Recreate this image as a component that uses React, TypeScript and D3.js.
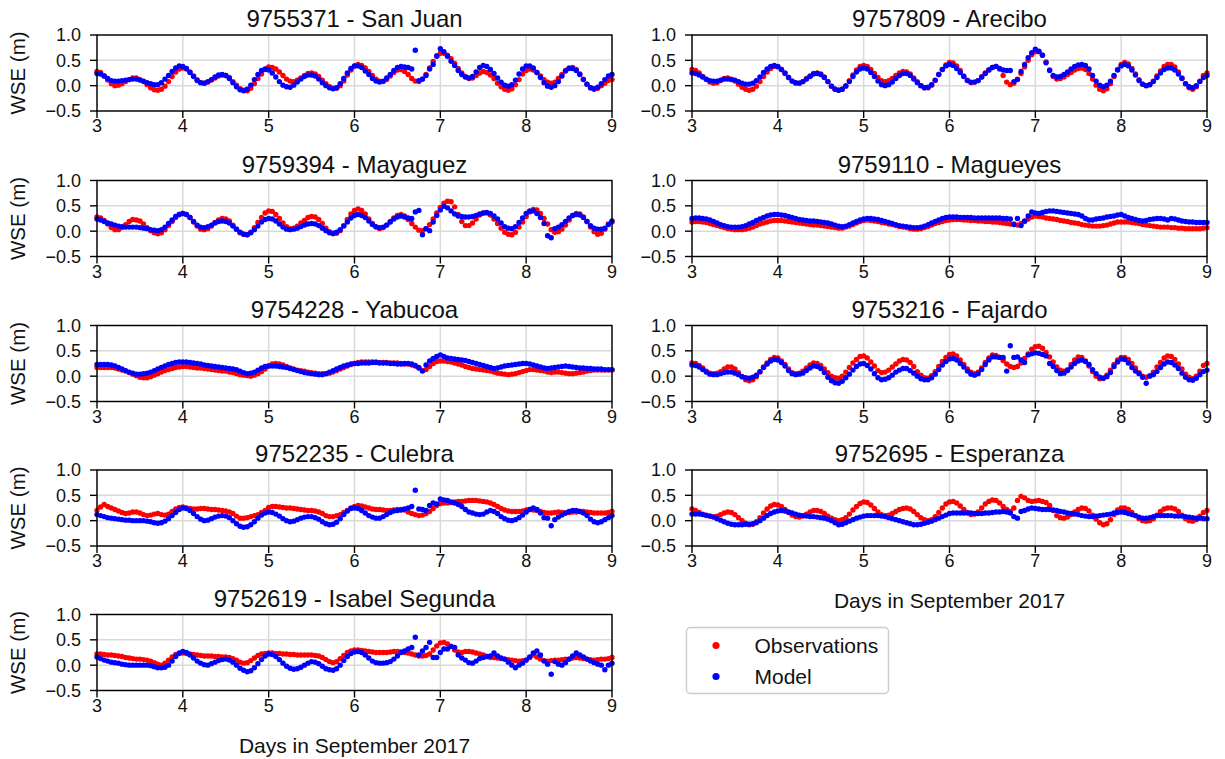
import React from 'react';
import * as d3 from 'd3';

// Water surface elevation in centimetres, one sample per hour from 3 Sep 00:00 to 9 Sep 00:00 (145 samples).
const sanJuanObs = [
  28, 26, 19, 11, 4, 0, 1, 4, 8, 12, 15, 15, 12, 8, 2, -4, -8, -9, -7, -1, 8, 18, 27, 33,
  35, 33, 27, 19, 12, 6, 5, 7, 11, 15, 19, 21, 20, 16, 8, 1, -6, -9, -10, -5, 4, 14, 23, 32,
  37, 36, 33, 27, 20, 13, 9, 8, 11, 15, 20, 24, 25, 23, 18, 11, 4, -2, -5, -5, 0, 9, 21, 31,
  39, 42, 40, 35, 28, 20, 13, 9, 8, 12, 19, 26, 31, 32, 28, 22, 14, 9, 8, 13, 22, 35, 48, 59,
  64, 64, 60, 53, 44, 34, 25, 18, 14, 15, 20, 25, 28, 26, 21, 14, 5, -2, -7, -9, -6, 2, 12, 23,
  30, 33, 31, 26, 19, 12, 7, 5, 7, 14, 22, 30, 35, 36, 32, 23, 13, 3, -4, -7, -5, 0, 5, 10, 12,
];
const sanJuanModel = [
  24, 23, 19, 14, 10, 9, 9, 10, 11, 12, 13, 13, 11, 9, 6, 4, 2, 2, 6, 13, 20, 28, 35, 39,
  38, 34, 26, 18, 10, 6, 5, 8, 12, 17, 21, 22, 20, 14, 6, -2, -8, -10, -7, 1, 12, 22, 30, 33,
  31, 25, 17, 8, 1, -2, -3, 1, 7, 13, 18, 21, 21, 19, 13, 6, 0, -4, -6, -4, 4, 14, 25, 34,
  39, 39, 36, 29, 22, 14, 9, 7, 9, 15, 22, 30, 36, 38, 37, 36, 33, 70, 10, 13, 20, 33, 42, 58,
  73, 67, 58, 48, 40, 30, 22, 17, 15, 18, 27, 36, 40, 38, 32, 24, 15, 7, 1, -1, 2, 11, 23, 33,
  39, 39, 35, 26, 16, 6, -1, -3, 0, 8, 19, 29, 34, 34, 30, 22, 12, 3, -4, -6, -3, 4, 12, 19, 22,
];

const areciboObs = [
  32, 30, 25, 18, 12, 7, 5, 6, 10, 14, 15, 13, 9, 3, -3, -7, -9, -7, -1, 8, 18, 27, 34, 38,
  37, 32, 24, 16, 9, 5, 5, 8, 14, 19, 24, 25, 23, 17, 8, -1, -7, -9, -7, 0, 10, 21, 31, 38,
  40, 38, 32, 24, 16, 10, 8, 10, 14, 20, 25, 28, 27, 23, 15, 8, 0, -4, -4, 1, 10, 22, 32, 41,
  46, 45, 39, 30, 19, 11, 6, 7, 10, 17, 25, 31, 36, 38, 33, 20, 7, 2, 5, 13, 24, 37, 50, 61,
  67, 67, 60, 47, 31, 18, 13, 14, 17, 22, 26, 31, 34, 35, 32, 24, 13, 1, -7, -10, -6, 4, 18, 32,
  42, 46, 43, 34, 23, 12, 3, 0, 2, 9, 19, 29, 38, 42, 42, 37, 27, 15, 4, -4, -7, -2, 9, 20, 25,
];
const areciboModel = [
  25, 24, 21, 17, 13, 10, 9, 9, 11, 13, 13, 12, 11, 8, 5, 3, 3, 5, 10, 17, 26, 33, 38, 40,
  38, 32, 25, 16, 9, 6, 5, 8, 13, 18, 23, 24, 22, 16, 8, -1, -7, -9, -7, -1, 8, 18, 27, 33,
  35, 33, 26, 18, 9, 2, 0, 2, 7, 14, 20, 24, 24, 20, 13, 6, 0, -4, -3, 2, 11, 22, 32, 39,
  42, 40, 34, 26, 18, 10, 7, 7, 10, 17, 24, 31, 36, 38, 34, 31, 30, 30, 8, 12, 28, 42, 55, 65,
  72, 68, 60, 45, 30, 20, 17, 18, 22, 27, 33, 38, 41, 42, 40, 33, 20, 9, 1, -2, 1, 9, 20, 31,
  39, 42, 39, 31, 21, 10, 3, 0, 2, 8, 16, 25, 32, 35, 35, 31, 23, 14, 4, -2, -4, 0, 8, 16, 20,
];

const mayaguezObs = [
  28, 26, 21, 14, 7, 3, 3, 7, 13, 19, 23, 22, 20, 14, 7, 1, -3, -5, -3, 3, 11, 19, 27, 33,
  35, 33, 27, 18, 10, 4, 3, 5, 10, 17, 22, 25, 24, 20, 12, 4, -3, -6, -7, -2, 7, 17, 27, 36,
  40, 39, 33, 25, 16, 9, 5, 6, 10, 16, 21, 27, 29, 28, 23, 15, 6, -1, -5, -4, 1, 11, 23, 34,
  41, 44, 41, 34, 24, 15, 8, 5, 7, 12, 19, 26, 31, 33, 30, 23, 15, 8, 2, 1, 5, 13, 24, 36,
  47, 55, 59, 58, 48, 33, 19, 11, 11, 16, 24, 32, 36, 36, 32, 24, 15, 6, -2, -6, -7, -2, 8, 18,
  29, 38, 43, 42, 35, 25, 14, 3, -2, -1, 4, 12, 22, 31, 35, 34, 28, 19, 8, -1, -6, -4, 4, 14, 18,
];
const mayaguezModel = [
  24, 22, 19, 16, 14, 12, 10, 9, 8, 8, 8, 8, 7, 6, 5, 3, 2, 1, 3, 8, 15, 22, 29, 33,
  35, 33, 27, 19, 12, 8, 7, 9, 12, 16, 19, 20, 19, 16, 10, 4, -2, -6, -7, -3, 3, 10, 18, 23,
  25, 24, 20, 14, 8, 4, 3, 4, 6, 9, 12, 14, 15, 14, 11, 6, 1, -3, -4, -2, 3, 10, 18, 26,
  31, 33, 31, 27, 20, 13, 9, 7, 8, 12, 18, 24, 28, 30, 28, 26, 25, 38, 41, -7, 5, 1, 18, 31,
  42, 49, 46, 40, 34, 30, 29, 28, 28, 29, 31, 34, 36, 37, 35, 30, 24, 16, 9, 6, 5, 9, 17, 26,
  35, 40, 40, 35, 27, 15, -9, -13, 5, 8, 13, 19, 26, 31, 33, 32, 27, 19, 11, 6, 4, 4, 6, 13, 20,
];

const magueyesObs = [
  18, 19, 19, 18, 17, 15, 13, 11, 9, 7, 5, 4, 3, 3, 3, 4, 6, 8, 11, 14, 16, 18, 20, 21,
  21, 21, 20, 19, 18, 17, 16, 15, 14, 13, 12, 12, 11, 10, 9, 8, 7, 6, 6, 8, 10, 13, 16, 19,
  21, 22, 21, 20, 19, 17, 16, 14, 13, 11, 9, 8, 7, 5, 4, 4, 5, 7, 9, 12, 15, 17, 19, 21,
  22, 23, 23, 23, 22, 22, 21, 21, 20, 20, 19, 19, 18, 18, 17, 16, 15, 14, 14, 12, 15, 19, 24, 28,
  30, 29, 28, 26, 25, 24, 23, 21, 20, 19, 17, 16, 15, 13, 12, 11, 10, 10, 10, 11, 12, 14, 16, 18,
  18, 18, 18, 17, 16, 15, 13, 12, 11, 10, 9, 8, 8, 8, 7, 7, 6, 6, 5, 5, 5, 5, 5, 6, 7,
];
const magueyesModel = [
  25, 26, 26, 25, 24, 22, 19, 16, 13, 11, 9, 8, 8, 8, 9, 11, 14, 17, 21, 24, 27, 30, 32, 33,
  33, 32, 31, 29, 27, 25, 23, 22, 21, 20, 20, 19, 18, 17, 16, 14, 12, 10, 9, 10, 13, 16, 19, 22,
  24, 25, 25, 24, 23, 21, 19, 17, 15, 13, 11, 10, 9, 8, 7, 7, 8, 10, 13, 16, 19, 22, 25, 27,
  28, 28, 28, 27, 27, 27, 27, 26, 26, 26, 26, 26, 26, 26, 26, 25, 25, 24, 13, 25, 11, 20, 30, 38,
  36, 35, 37, 39, 40, 40, 39, 38, 37, 36, 35, 34, 33, 30, 25, 22, 22, 24, 25, 26, 28, 29, 30, 32,
  33, 30, 27, 25, 23, 21, 20, 21, 23, 24, 25, 25, 24, 22, 25, 24, 22, 20, 19, 18, 18, 17, 17, 17, 17,
];

const yabucoaObs = [
  17, 17, 17, 17, 17, 16, 14, 12, 10, 7, 4, 1, -2, -3, -3, -1, 2, 5, 8, 11, 13, 15, 17, 18,
  19, 19, 18, 17, 16, 16, 15, 14, 13, 12, 11, 10, 10, 8, 7, 5, 3, 2, 1, 0, 2, 5, 9, 14,
  20, 24, 25, 24, 22, 19, 16, 14, 12, 11, 10, 8, 7, 6, 5, 5, 5, 6, 8, 11, 14, 17, 20, 23,
  25, 27, 28, 28, 28, 28, 28, 27, 27, 27, 26, 26, 26, 25, 24, 24, 22, 20, 17, 11, 13, 19, 25, 29,
  30, 30, 29, 28, 26, 24, 22, 19, 17, 15, 14, 13, 12, 11, 10, 8, 6, 5, 4, 3, 4, 5, 7, 9,
  11, 13, 13, 12, 11, 10, 8, 7, 8, 8, 7, 6, 5, 5, 6, 7, 8, 10, 11, 12, 12, 12, 12, 12, 12,
];
const yabucoaModel = [
  23, 23, 23, 23, 22, 20, 17, 14, 11, 8, 6, 4, 4, 5, 6, 8, 11, 14, 17, 20, 23, 25, 27, 28,
  28, 28, 27, 26, 25, 24, 22, 21, 20, 19, 18, 17, 16, 15, 14, 13, 10, 7, 5, 6, 8, 12, 16, 19,
  20, 20, 20, 19, 18, 17, 15, 13, 11, 9, 7, 6, 5, 4, 3, 3, 5, 8, 11, 14, 17, 20, 22, 24,
  25, 25, 26, 26, 26, 27, 27, 26, 26, 26, 25, 25, 24, 24, 25, 25, 24, 21, 16, 10, 22, 30, 35, 39,
  42, 39, 36, 35, 34, 33, 32, 31, 29, 27, 25, 23, 21, 19, 17, 15, 16, 18, 20, 21, 22, 23, 24, 25,
  25, 24, 22, 20, 18, 16, 15, 16, 17, 18, 19, 20, 19, 18, 17, 16, 16, 15, 15, 14, 14, 14, 13, 13, 13,
];

const fajardoObs = [
  26, 25, 21, 16, 10, 6, 5, 6, 9, 14, 18, 18, 14, 7, -1, -7, -9, -7, -1, 8, 18, 26, 33, 37,
  36, 30, 23, 14, 7, 5, 6, 10, 16, 22, 26, 25, 21, 14, 7, 0, -3, -4, 0, 8, 17, 26, 33, 39,
  40, 36, 28, 20, 11, 7, 8, 12, 18, 24, 30, 33, 32, 27, 19, 9, 2, -3, -4, 1, 9, 19, 29, 37,
  43, 44, 40, 32, 23, 14, 8, 5, 8, 16, 27, 36, 42, 41, 37, 31, 24, 19, 17, 19, 26, 35, 44, 53,
  58, 59, 55, 47, 38, 28, 18, 12, 10, 13, 23, 32, 38, 37, 30, 20, 9, 0, -5, -4, 2, 12, 23, 32,
  37, 37, 33, 25, 16, 7, 0, -2, 1, 8, 18, 27, 36, 40, 39, 33, 24, 14, 4, -2, -5, 0, 10, 21, 25,
];
const fajardoModel = [
  22, 21, 18, 13, 8, 4, 3, 3, 5, 7, 8, 8, 6, 3, -1, -3, -4, -2, 2, 9, 17, 24, 30, 33,
  32, 27, 20, 11, 5, 3, 4, 6, 11, 16, 20, 19, 15, 7, -2, -9, -13, -14, -10, -3, 4, 12, 19, 24,
  25, 21, 14, 5, -3, -7, -6, -3, 2, 8, 12, 15, 15, 11, 6, 0, -5, -7, -7, -3, 4, 13, 22, 29,
  34, 35, 32, 25, 18, 10, 4, 2, 5, 13, 23, 32, 38, 38, 37, 37, 10, 60, 37, 38, 32, 27, 42, 44,
  46, 45, 43, 40, 25, 19, 11, 5, 6, 11, 18, 25, 30, 32, 29, 23, 13, 5, -2, -4, -1, 7, 19, 28,
  34, 33, 26, 17, 10, 5, -2, -14, 0, 3, 9, 17, 24, 28, 27, 22, 15, 6, -2, -7, -8, -4, 3, 9, 12,
];

const culebraObs = [
  20, 27, 32, 28, 25, 22, 19, 16, 14, 15, 17, 17, 15, 12, 10, 11, 13, 14, 12, 11, 13, 18, 23, 26,
  27, 25, 24, 23, 23, 24, 24, 23, 22, 22, 21, 20, 19, 17, 14, 9, 5, 5, 6, 8, 10, 12, 16, 20,
  26, 28, 28, 27, 26, 25, 25, 24, 23, 22, 21, 20, 20, 19, 17, 14, 10, 8, 8, 10, 12, 16, 20, 25,
  28, 30, 29, 27, 25, 23, 22, 22, 21, 20, 20, 21, 22, 22, 21, 17, 14, 12, 10, 11, 14, 18, 24, 30,
  34, 35, 35, 36, 37, 38, 38, 39, 40, 40, 40, 39, 38, 37, 35, 32, 28, 24, 21, 19, 18, 18, 18, 19,
  21, 22, 21, 20, 18, 16, 15, 15, 16, 17, 16, 15, 16, 17, 17, 18, 18, 17, 16, 15, 15, 15, 15, 16, 18,
];
const culebraModel = [
  12, 10, 8, 6, 5, 4, 3, 2, 1, 1, 0, 0, 0, 0, -1, -2, -4, -5, -4, -1, 4, 10, 16, 22,
  25, 24, 20, 14, 8, 3, 0, 1, 4, 7, 9, 10, 9, 6, 0, -6, -11, -13, -12, -8, -2, 5, 11, 15,
  17, 16, 13, 9, 4, 0, -2, -1, 2, 5, 7, 8, 8, 6, 3, -2, -6, -8, -7, -3, 4, 12, 19, 24,
  25, 24, 20, 15, 10, 7, 5, 5, 8, 12, 16, 19, 20, 21, 23, 25, 28, 60, 23, 22, 20, 30, 35, 33,
  43, 41, 40, 37, 35, 32, 28, 22, 17, 15, 13, 12, 13, 17, 20, 18, 14, 8, 4, 1, 0, 2, 6, 11,
  17, 22, 25, 22, 15, 6, 5, -10, 2, 7, 11, 15, 18, 20, 20, 18, 15, 10, 3, -2, -4, -2, 2, 6, 10,
];

const esperanzaObs = [
  23, 20, 16, 13, 10, 9, 8, 9, 12, 15, 17, 16, 12, 6, 0, -5, -8, -7, -2, 6, 15, 23, 29, 32,
  31, 28, 22, 16, 11, 8, 7, 9, 13, 17, 20, 20, 18, 14, 9, 5, 2, 0, 2, 6, 13, 21, 28, 34,
  37, 36, 31, 24, 17, 12, 10, 11, 14, 18, 22, 24, 25, 23, 18, 12, 6, 2, 0, 2, 8, 16, 25, 33,
  37, 38, 35, 29, 22, 16, 12, 13, 17, 25, 33, 38, 41, 40, 35, 28, 22, 18, 25, 40, 48, 45, 40, 38,
  39, 40, 38, 36, 30, 20, 10, 6, 5, 7, 12, 17, 22, 25, 24, 19, 11, 3, -4, -8, -6, 2, 12, 21,
  25, 25, 22, 16, 10, 4, 0, -1, 0, 4, 11, 18, 23, 25, 25, 23, 18, 11, 4, 0, -1, 2, 9, 16, 20,
];
const esperanzaModel = [
  13, 13, 13, 12, 11, 9, 7, 4, 1, -2, -5, -7, -8, -8, -8, -7, -7, -6, -4, 0, 5, 10, 14, 17,
  19, 20, 19, 17, 15, 13, 11, 10, 9, 8, 8, 7, 6, 5, 3, 0, -4, -8, -7, -4, -1, 2, 5, 7,
  9, 10, 10, 10, 10, 9, 8, 6, 4, 2, 0, -2, -4, -6, -8, -8, -7, -5, -3, -1, 2, 5, 8, 11,
  14, 15, 15, 15, 15, 15, 15, 14, 14, 14, 15, 15, 16, 17, 17, 18, 17, 15, 8, 5, 18, 20, 23, 25,
  24, 23, 22, 22, 22, 21, 20, 18, 17, 15, 14, 13, 12, 10, 9, 8, 8, 9, 10, 11, 12, 13, 15, 16,
  17, 16, 14, 12, 10, 7, 5, 5, 6, 8, 10, 10, 10, 10, 10, 9, 9, 9, 8, 7, 6, 5, 5, 4, 4,
];

const isabelSegundaObs = [
  22, 22, 21, 20, 20, 19, 18, 17, 15, 14, 13, 12, 12, 11, 10, 8, 5, 2, 0, 4, 10, 16, 21, 23,
  24, 23, 22, 21, 20, 19, 18, 18, 18, 17, 17, 16, 16, 15, 13, 10, 6, 4, 5, 9, 14, 19, 22, 23,
  24, 24, 23, 23, 22, 22, 21, 21, 20, 20, 20, 20, 20, 19, 18, 15, 11, 7, 5, 7, 13, 19, 25, 28,
  30, 30, 29, 28, 27, 26, 25, 25, 25, 25, 26, 27, 27, 26, 25, 24, 22, 20, 18, 18, 19, 22, 30, 38,
  44, 45, 42, 37, 30, 26, 25, 27, 27, 26, 24, 22, 20, 17, 15, 15, 14, 13, 12, 11, 10, 9, 8, 9,
  10, 15, 20, 16, 12, 9, 8, 9, 10, 10, 11, 12, 12, 14, 15, 14, 13, 12, 11, 10, 11, 12, 12, 13, 15,
];
const isabelSegundaModel = [
  16, 13, 10, 8, 6, 5, 4, 2, 1, 0, 0, 0, 0, 0, 0, -1, -3, -5, -5, -4, 0, 8, 17, 24,
  27, 25, 20, 14, 8, 4, 1, 0, 3, 6, 9, 11, 12, 10, 6, 0, -6, -10, -13, -11, -5, 3, 11, 18,
  22, 21, 17, 11, 4, -2, -6, -8, -7, -4, 0, 4, 7, 6, 3, -2, -7, -9, -10, -7, 0, 9, 17, 23,
  26, 27, 25, 20, 14, 8, 5, 4, 4, 5, 7, 12, 18, 25, 28, 32, 35, 55, 20, 28, 35, 45, 15, 15,
  25, 32, 32, 37, 35, 20, 14, 10, 5, 4, 8, 13, 15, 17, 18, 24, 18, 14, 12, 6, 0, -5, 0, 4,
  10, 16, 24, 28, 20, 8, 2, -18, 7, 2, 0, 5, 12, 18, 24, 20, 16, 12, 8, 5, 2, 0, -9, 0, 4,
];

const stationIds = ['9755371', '9757809', '9759394', '9759110', '9754228', '9753216', '9752235', '9752695', '9752619'];
const stationNames = ['San Juan', 'Arecibo', 'Mayaguez', 'Magueyes', 'Yabucoa', 'Fajardo', 'Culebra', 'Esperanza', 'Isabel Segunda'];
const observedSeries = [sanJuanObs, areciboObs, mayaguezObs, magueyesObs, yabucoaObs, fajardoObs, culebraObs, esperanzaObs, isabelSegundaObs];
const modelSeries = [sanJuanModel, areciboModel, mayaguezModel, magueyesModel, yabucoaModel, fajardoModel, culebraModel, esperanzaModel, isabelSegundaModel];

const dayTicks = [3, 4, 5, 6, 7, 8, 9];
const wseTicks = [-0.5, 0, 0.5, 1.0];
const firstDay = 3;
const samplesPerDay = 24;
const legendLabels = ['Observations', 'Model'];
const xAxisTitle = 'Days in September 2017';
const yAxisTitle = 'WSE (m)';

const FONT = '"Liberation Sans", Arial, Helvetica, sans-serif';
const OBS_COLOR = '#ff0000';
const MODEL_COLOR = '#0000ff';
const GRID_COLOR = '#d9d9d9';
const INK = '#111';

const COL_LEFT = [97, 692];
const AX_W = 515;
const ROW_TOP = [35, 180.5, 325.5, 470, 614.5];
const AX_H = 76;
const DOT_R = 2.7;
const TICK_FONT = 18;

type PanelProps = {
  id: string;
  name: string;
  obs: number[];
  model: number[];
  left: number;
  top: number;
  showYLabel: boolean;
  showXLabel: boolean;
};

function Panel({ id, name, obs, model, left, top, showYLabel, showXLabel }: PanelProps) {
  const x = d3.scaleLinear().domain([3, 9]).range([left, left + AX_W]);
  const y = d3.scaleLinear().domain([-0.5, 1.0]).range([top + AX_H, top]);
  const fmt = d3.format('.1f');
  const bottom = top + AX_H;
  const toPoints = (vals: number[]) =>
    vals.map((cm, i) => ({ t: firstDay + i / samplesPerDay, v: cm / 100 }));
  const obsPts = toPoints(obs);
  const modelPts = toPoints(model);

  return (
    <g>
      {/* grid */}
      {dayTicks.map((d) => (
        <line key={'gx' + d} x1={x(d)} x2={x(d)} y1={top} y2={bottom} stroke={GRID_COLOR} strokeWidth={1.5} />
      ))}
      {wseTicks.map((v) => (
        <line key={'gy' + v} x1={left} x2={left + AX_W} y1={y(v)} y2={y(v)} stroke={GRID_COLOR} strokeWidth={1.5} />
      ))}

      {/* observations, then model on top */}
      {obsPts.map((p, i) => (
        <circle key={'o' + i} cx={x(p.t)} cy={y(p.v)} r={DOT_R} fill={OBS_COLOR} />
      ))}
      {modelPts.map((p, i) => (
        <circle key={'m' + i} cx={x(p.t)} cy={y(p.v)} r={DOT_R} fill={MODEL_COLOR} />
      ))}

      {/* frame */}
      <rect x={left} y={top} width={AX_W} height={AX_H} fill="none" stroke="#000" strokeWidth={1.4} />

      {/* y ticks */}
      {wseTicks.map((v) => (
        <g key={'ty' + v}>
          <line x1={left - 7} x2={left} y1={y(v)} y2={y(v)} stroke="#000" strokeWidth={1.4} />
          <text x={left - 16} y={y(v)} dy="0.36em" textAnchor="end" fontSize={TICK_FONT} fontFamily={FONT} fill={INK}>
            {fmt(v)}
          </text>
        </g>
      ))}

      {/* x ticks */}
      {dayTicks.map((d) => (
        <g key={'tx' + d}>
          <line x1={x(d)} x2={x(d)} y1={bottom} y2={bottom + 7} stroke="#000" strokeWidth={1.4} />
          <text x={x(d)} y={bottom + 21} textAnchor="middle" fontSize={TICK_FONT} fontFamily={FONT} fill={INK}>
            {d}
          </text>
        </g>
      ))}

      <text x={left + AX_W / 2} y={top - 8} textAnchor="middle" fontSize={24} fontFamily={FONT} fill={INK}>
        {`${id} - ${name}`}
      </text>

      {showYLabel && (
        <text
          transform={`translate(25, ${top + AX_H / 2}) rotate(-90)`}
          textAnchor="middle"
          fontSize={20.5}
          fontFamily={FONT}
          fill={INK}
        >
          {yAxisTitle}
        </text>
      )}
      {showXLabel && (
        <text x={left + AX_W / 2} y={bottom + 62} textAnchor="middle" fontSize={21} fontFamily={FONT} fill={INK}>
          {xAxisTitle}
        </text>
      )}
    </g>
  );
}

function Legend() {
  const lx = 686.5;
  const ly = 627.5;
  const colors = [OBS_COLOR, MODEL_COLOR];
  return (
    <g>
      <rect x={lx} y={ly} width={202} height={66} rx={4} fill="#fff" stroke="#cccccc" strokeWidth={1.4} />
      {legendLabels.map((label, i) => (
        <g key={label}>
          <circle cx={lx + 29.5} cy={ly + 18 + i * 31} r={3.6} fill={colors[i]} />
          <text x={lx + 68} y={ly + 18 + i * 31} dy="0.36em" fontSize={21} fontFamily={FONT} fill={INK}>
            {label}
          </text>
        </g>
      ))}
    </g>
  );
}

export default function App() {
  const panels = stationIds.map((id, k) => ({
    id,
    name: stationNames[k],
    obs: observedSeries[k],
    model: modelSeries[k],
    col: k % 2,
    row: Math.floor(k / 2),
  }));
  return (
    <svg
      width={1225}
      height={759}
      viewBox="0 0 1225 759"
      style={{ position: 'absolute', left: 0, top: 0, background: '#fff' }}
    >
      <rect x={0} y={0} width={1225} height={759} fill="#fff" />
      {panels.map((p) => (
        <Panel
          key={p.id}
          id={p.id}
          name={p.name}
          obs={p.obs}
          model={p.model}
          left={COL_LEFT[p.col]}
          top={ROW_TOP[p.row]}
          showYLabel={p.col === 0}
          showXLabel={p.row === 4 || (p.row === 3 && p.col === 1)}
        />
      ))}
      <Legend />
    </svg>
  );
}
